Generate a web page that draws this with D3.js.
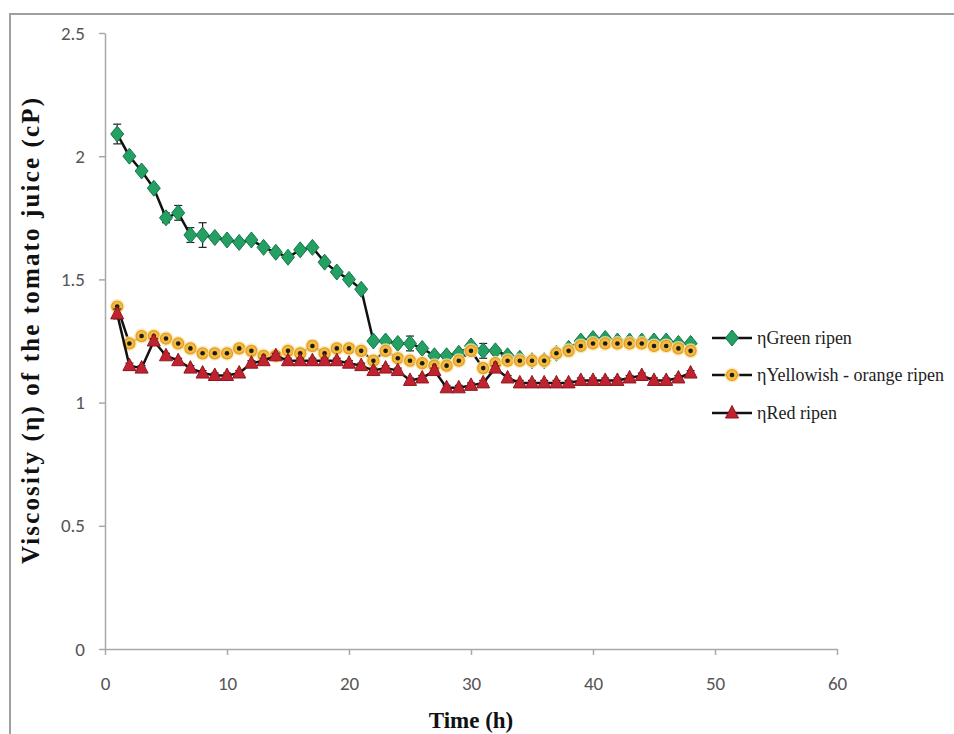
<!DOCTYPE html>
<html lang="en">
<head>
    <meta charset="UTF-8">
    <title>Viscosity of tomato juice</title>
    <script src="https://d3js.org/d3.v7.min.js"></script>
    <style>
        body { margin: 0; background: #fff; }
        .tick text { font-family: Carlito, "Liberation Sans Narrow", "Liberation Sans", sans-serif; font-size: 19px; fill: #555; }
        .axis path, .axis line { stroke: #a8a8a8; stroke-width: 1.5; }
        .title { font-family: "Liberation Serif", "DejaVu Serif", serif; font-weight: bold; font-size: 23px; fill: #111; }
        .legend-text { font-family: "Liberation Serif", "DejaVu Serif", serif; font-size: 18px; fill: #222; }
    </style>
</head>
<body>
<svg id="chart" width="954" height="734"></svg>
<script>
    // time in hours
    const hours = d3.range(1, 49);

    const greenRipen = [2.09, 2.00, 1.94, 1.87, 1.75, 1.77, 1.68, 1.68, 1.67, 1.66,
                        1.65, 1.66, 1.63, 1.61, 1.59, 1.62, 1.63, 1.57, 1.53, 1.50,
                        1.46, 1.25, 1.25, 1.24, 1.24, 1.22, 1.19, 1.19, 1.20, 1.23,
                        1.21, 1.21, 1.19, 1.18, 1.17, 1.17, 1.20, 1.22, 1.25, 1.26,
                        1.26, 1.25, 1.25, 1.25, 1.25, 1.25, 1.24, 1.24];
    const greenErr   = [0.04, 0.01, 0.01, 0.01, 0.02, 0.03, 0.03, 0.05, 0.01, 0.01,
                        0.01, 0.01, 0.01, 0.01, 0.01, 0.01, 0.01, 0.01, 0.01, 0.01,
                        0.01, 0.01, 0.01, 0.01, 0.03, 0.01, 0.01, 0.01, 0.01, 0.01,
                        0.03, 0.01, 0.01, 0.01, 0.01, 0.01, 0.01, 0.01, 0.01, 0.01,
                        0.01, 0.01, 0.01, 0.01, 0.01, 0.01, 0.01, 0.01];

    const yellowRipen = [1.39, 1.24, 1.27, 1.27, 1.26, 1.24, 1.22, 1.20, 1.20, 1.20,
                         1.22, 1.21, 1.19, 1.19, 1.21, 1.20, 1.23, 1.20, 1.22, 1.22,
                         1.21, 1.17, 1.21, 1.18, 1.17, 1.16, 1.15, 1.15, 1.17, 1.21,
                         1.14, 1.16, 1.17, 1.17, 1.17, 1.17, 1.20, 1.21, 1.23, 1.24,
                         1.24, 1.24, 1.24, 1.24, 1.23, 1.23, 1.22, 1.21];
    const yellowErr   = [0.01, 0.01, 0.01, 0.01, 0.01, 0.01, 0.01, 0.01, 0.01, 0.01,
                         0.01, 0.01, 0.01, 0.01, 0.01, 0.01, 0.02, 0.01, 0.01, 0.01,
                         0.01, 0.01, 0.01, 0.01, 0.01, 0.01, 0.01, 0.01, 0.01, 0.01,
                         0.01, 0.01, 0.01, 0.01, 0.01, 0.01, 0.01, 0.01, 0.01, 0.01,
                         0.01, 0.01, 0.01, 0.01, 0.01, 0.01, 0.01, 0.01];

    const redRipen = [1.36, 1.15, 1.14, 1.25, 1.19, 1.17, 1.14, 1.12, 1.11, 1.11,
                      1.12, 1.16, 1.17, 1.19, 1.17, 1.17, 1.17, 1.17, 1.17, 1.16,
                      1.15, 1.13, 1.14, 1.13, 1.09, 1.10, 1.13, 1.06, 1.06, 1.07,
                      1.08, 1.14, 1.10, 1.08, 1.08, 1.08, 1.08, 1.08, 1.09, 1.09,
                      1.09, 1.09, 1.10, 1.11, 1.09, 1.09, 1.10, 1.12];
    const redErr   = [0.02, 0.01, 0.01, 0.01, 0.01, 0.01, 0.01, 0.01, 0.01, 0.01,
                      0.01, 0.01, 0.01, 0.01, 0.01, 0.01, 0.01, 0.01, 0.01, 0.01,
                      0.01, 0.01, 0.01, 0.01, 0.01, 0.01, 0.01, 0.01, 0.01, 0.01,
                      0.01, 0.01, 0.01, 0.01, 0.01, 0.01, 0.01, 0.01, 0.01, 0.01,
                      0.01, 0.01, 0.01, 0.01, 0.01, 0.01, 0.01, 0.01];

    const seriesNames = ["\u03b7Green ripen", "\u03b7Yellowish - orange ripen", "\u03b7Red ripen"];
    const xTicks = [0, 10, 20, 30, 40, 50, 60];
    const yTicks = [0, 0.5, 1, 1.5, 2, 2.5];

    const series = [
        { name: seriesNames[0], values: greenRipen, err: greenErr, marker: "diamond" },
        { name: seriesNames[1], values: yellowRipen, err: yellowErr, marker: "circle" },
        { name: seriesNames[2], values: redRipen, err: redErr, marker: "triangle" }
    ];

    const svg = d3.select("#chart");

    // outer frame
    svg.append("rect")
        .attr("x", 10).attr("y", 14)
        .attr("width", 960).attr("height", 740)
        .attr("fill", "none")
        .attr("stroke", "#a0a0a0")
        .attr("stroke-width", 2);

    const x = d3.scaleLinear().domain([0, 60]).range([105, 837]);
    const y = d3.scaleLinear().domain([0, 2.5]).range([649, 33]);

    svg.append("g")
        .attr("class", "axis")
        .attr("transform", `translate(0,${y(0)})`)
        .call(d3.axisBottom(x).tickValues(xTicks).tickSize(6).tickSizeOuter(0).tickPadding(22).tickFormat(d => d));

    svg.append("g")
        .attr("class", "axis")
        .attr("transform", `translate(${x(0)},0)`)
        .call(d3.axisLeft(y).tickValues(yTicks).tickSize(6).tickSizeOuter(0).tickPadding(14).tickFormat(d => d));

    // titles
    svg.append("text")
        .attr("class", "title")
        .attr("x", 471).attr("y", 728)
        .attr("text-anchor", "middle")
        .text("Time (h)");

    svg.append("text")
        .attr("class", "title")
        .attr("transform", "translate(39,331) rotate(-90)")
        .attr("text-anchor", "middle")
        .style("font-size", "25px")
        .attr("textLength", 466)
        .attr("lengthAdjust", "spacing")
        .text("Viscosity (\u03b7) of the tomato juice (cP)");

    const line = d3.line()
        .x((d, i) => x(hours[i]))
        .y(d => y(d));

    function drawMarker(g, type, cx, cy) {
        if (type === "diamond") {
            g.append("path")
                .attr("d", `M${cx},${cy - 8}L${cx + 6.5},${cy}L${cx},${cy + 8}L${cx - 6.5},${cy}Z`)
                .attr("fill", "#23a062")
                .attr("stroke", "#17764a")
                .attr("stroke-width", 1);
        } else if (type === "circle") {
            g.append("circle")
                .attr("cx", cx).attr("cy", cy).attr("r", 7.5)
                .attr("fill", "#fbe7a6").attr("opacity", 0.8);
            g.append("circle")
                .attr("cx", cx).attr("cy", cy).attr("r", 5.5)
                .attr("fill", "#f4bb3c")
                .attr("stroke", "#e29a2c")
                .attr("stroke-width", 1.2);
            g.append("circle")
                .attr("cx", cx).attr("cy", cy).attr("r", 2.3)
                .attr("fill", "#1a1a1a");
        } else {
            g.append("path")
                .attr("d", `M${cx},${cy - 7.5}L${cx + 6.5},${cy + 5}L${cx - 6.5},${cy + 5}Z`)
                .attr("fill", "#c0232f")
                .attr("stroke", "#8e1820")
                .attr("stroke-width", 1);
        }
    }

    series.forEach(s => {
        const g = svg.append("g");

        // error bars
        s.values.forEach((v, i) => {
            const cx = x(hours[i]);
            const y1 = y(v + s.err[i]), y2 = y(v - s.err[i]);
            g.append("line").attr("x1", cx).attr("x2", cx).attr("y1", y1).attr("y2", y2)
                .attr("stroke", "#222").attr("stroke-width", 1.2);
            [y1, y2].forEach(yy => g.append("line")
                .attr("x1", cx - 4).attr("x2", cx + 4).attr("y1", yy).attr("y2", yy)
                .attr("stroke", "#222").attr("stroke-width", 1.2));
        });

        g.append("path")
            .datum(s.values)
            .attr("d", line)
            .attr("fill", "none")
            .attr("stroke", "#111")
            .attr("stroke-width", 2.5);

        s.values.forEach((v, i) => drawMarker(g, s.marker, x(hours[i]), y(v)));
    });

    // legend
    const legendY = [338, 375, 413];
    series.forEach((s, i) => {
        const g = svg.append("g");
        g.append("line")
            .attr("x1", 712).attr("x2", 752)
            .attr("y1", legendY[i]).attr("y2", legendY[i])
            .attr("stroke", "#111").attr("stroke-width", 2.5);
        drawMarker(g, s.marker, 732, legendY[i]);
        g.append("text")
            .attr("class", "legend-text")
            .attr("x", 757).attr("y", legendY[i] + 6)
            .text(s.name);
    });
</script>
</body>
</html>
